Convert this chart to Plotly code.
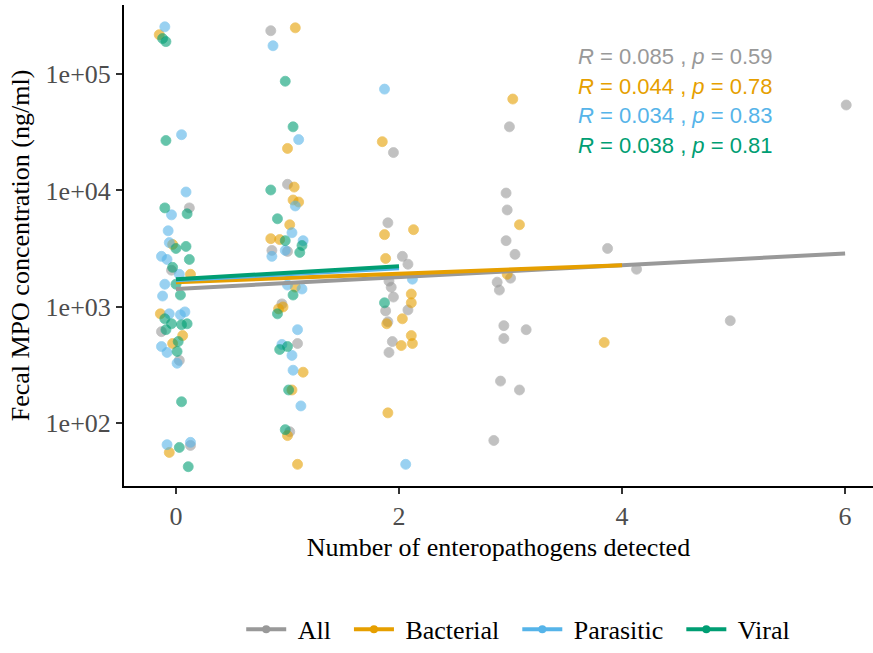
import plotly.graph_objects as go

# ---------------- data ----------------
groups = ["All", "Bacterial", "Parasitic", "Viral"]
colors = {"All": "#999999", "Bacterial": "#E69F00", "Parasitic": "#56B4E9", "Viral": "#009E73"}

# jittered x positions and fecal MPO values (ng/ml)
all_x = [0.12, -0.04, -0.13, 0.03, 0.13,
         0.85, 1.00, 0.86, 1.00, 0.95, 1.09, 1.02,
         1.95, 1.90, 2.03, 2.08, 1.91, 1.93, 1.95, 1.88, 2.08, 1.90, 1.94, 1.91,
         2.99, 2.96, 2.97, 2.96, 3.04, 3.00, 2.88, 2.90, 2.94, 3.14, 2.94, 2.91, 3.08, 2.85,
         3.87, 4.13, 4.97, 6.01]
all_y = [7080, 2060, 610, 345, 64,
         237000, 11300, 3050, 2990, 1057, 482, 84,
         21200, 5270, 2710, 2320, 1660, 1470, 1210, 920, 938, 742, 501, 404,
         35300, 9500, 6800, 3700, 2820, 1760, 1625, 1390, 687, 634, 532, 229, 192, 70.6,
         3170, 2100, 757, 54400]

bac_x = [-0.15, -0.03, 0.13, -0.14, 0.06, -0.03, -0.06,
         1.07, 1.00, 1.06, 1.05, 1.10, 1.02, 0.85, 0.93, 1.07, 0.96, 0.92, 1.14, 1.04, 1.00, 1.09,
         1.85, 1.87, 2.13, 1.88, 2.11, 2.11, 2.03, 1.89, 2.11, 2.12, 2.02, 1.90,
         3.02, 3.08, 2.97, 3.84]
bac_y = [219000, 3430, 1900, 868, 564, 482, 55.7,
         251000, 23000, 10700, 8280, 7960, 5070, 3850, 3780, 1475, 995, 957, 273, 192, 77.8, 44,
         26300, 4170, 4600, 2600, 1285, 1080, 787, 713, 564, 482, 463, 122,
         61200, 5070, 1900, 492]

par_x = [-0.10, 0.05, 0.09, -0.04, -0.07, -0.06, -0.13, -0.08, 0.03, -0.10, -0.12, -0.06,
         0.04, 0.08, -0.13, -0.08, 0.01, -0.08, 0.13,
         0.87, 1.10, 1.07, 1.04, 1.14, 0.86, 0.98, 1.00, 1.13, 1.09, 0.95, 1.04, 1.05, 1.12,
         1.87, 2.12, 2.06]
par_y = [256000, 30200, 9700, 6170, 4500, 3560, 2710, 2550, 1900, 1560, 1235, 868,
         851, 902, 454, 404, 326, 65, 68,
         176000, 27400, 7360, 4330, 3700, 2710, 3050, 1535, 1420, 634, 473, 381, 284, 140,
         74500, 1725, 44]

vir_x = [-0.12, -0.09, -0.09, -0.10, 0.10, 0.00, 0.09, 0.12, -0.03, 0.00, 0.04, -0.10,
         -0.04, 0.05, 0.10, -0.09, 0.02, 0.01, 0.05, 0.03, 0.11,
         0.98, 1.05, 0.85, 0.91, 0.98, 1.13, 1.11, 1.05, 0.91, 1.00, 0.93, 1.01, 0.98,
         1.87]
vir_y = [203000, 191000, 26900, 7080, 6300, 3170, 3300, 2550, 2180, 1560, 1260, 787,
         713, 700, 713, 634, 501, 412, 152, 61.5, 42,
         87100, 35300, 10100, 5710, 3700, 3360, 2930, 1260, 868, 454, 428, 192, 87.5,
         1080]

# fitted regression lines (end points of each fit, log-scale lm)
fit_x = {"All": [0, 6], "Bacterial": [0, 4], "Parasitic": [0, 2], "Viral": [0, 2]}
fit_y = {"All": [1419, 2872], "Bacterial": [1626, 2270], "Parasitic": [1692, 2138], "Viral": [1726, 2228]}

# correlation labels
cor_R = {"All": "0.085", "Bacterial": "0.044", "Parasitic": "0.034", "Viral": "0.038"}
cor_p = {"All": "0.59", "Bacterial": "0.78", "Parasitic": "0.83", "Viral": "0.81"}

points = {"All": (all_x, all_y), "Bacterial": (bac_x, bac_y),
          "Parasitic": (par_x, par_y), "Viral": (vir_x, vir_y)}

y_tickvals = [100, 1000, 10000, 100000]
y_ticktext = ["1e+02", "1e+03", "1e+04", "1e+05"]
x_tickvals = [0, 2, 4, 6]

# ---------------- figure ----------------
fig = go.Figure()
SERIF = "Liberation Serif, Times New Roman, serif"
SANS = "Liberation Sans, Arial, sans-serif"
NB = "\u00a0"

for g in groups:
    xs, ys = points[g]
    fig.add_trace(go.Scatter(
        x=xs, y=ys, mode="markers", showlegend=False, hoverinfo="skip",
        marker=dict(size=10, color=colors[g], opacity=0.6,
                    line=dict(color=colors[g], width=0.8))))

for g in groups:
    fig.add_trace(go.Scatter(
        x=fit_x[g], y=fit_y[g], mode="lines", showlegend=False,
        line=dict(color=colors[g], width=4)))

for g in groups:
    fig.add_trace(go.Scatter(
        x=[None], y=[None], mode="lines+markers", name=NB + g + NB * 2,
        line=dict(color=colors[g], width=4),
        marker=dict(size=8, color=colors[g])))

ann_y = [0.893, 0.831, 0.771, 0.708]
for g, yy in zip(groups, ann_y):
    fig.add_annotation(
        xref="paper", yref="paper", x=0.603, y=yy, xanchor="left", yanchor="middle",
        text="<i>R</i> = %s , <i>p</i> = %s" % (cor_R[g], cor_p[g]),
        showarrow=False, font=dict(family=SANS, size=22, color=colors[g]))

fig.update_layout(
    width=873, height=653,
    margin=dict(l=124, r=0, t=5, b=162),
    plot_bgcolor="white", paper_bgcolor="white",
    showlegend=True,
    legend=dict(orientation="h", x=0.535, xanchor="center", y=-0.298, yanchor="middle",
                font=dict(family=SERIF, size=26, color="black"), itemwidth=40,
                bgcolor="rgba(0,0,0,0)"),
    xaxis=dict(range=[-0.466, 6.25], tickvals=x_tickvals, showgrid=False, zeroline=False,
               showline=True, linecolor="black", linewidth=2,
               ticks="outside", ticklen=6, tickwidth=2, tickcolor="#333333",
               tickfont=dict(family=SERIF, size=26, color="#4D4D4D"),
               title=dict(text="Number of enteropathogens detected", standoff=8,
                          font=dict(family=SERIF, size=26, color="black"))),
    yaxis=dict(type="log", range=[1.457, 5.596], tickvals=y_tickvals, ticktext=y_ticktext,
               showgrid=False, zeroline=False,
               showline=True, linecolor="black", linewidth=2,
               ticks="outside", ticklen=6, tickwidth=2, tickcolor="#333333",
               tickfont=dict(family=SERIF, size=26, color="#4D4D4D"),
               title=dict(text="Fecal MPO concentration (ng/ml)", standoff=8,
                          font=dict(family=SERIF, size=26, color="black"))),
)

fig.write_html("out.html")
